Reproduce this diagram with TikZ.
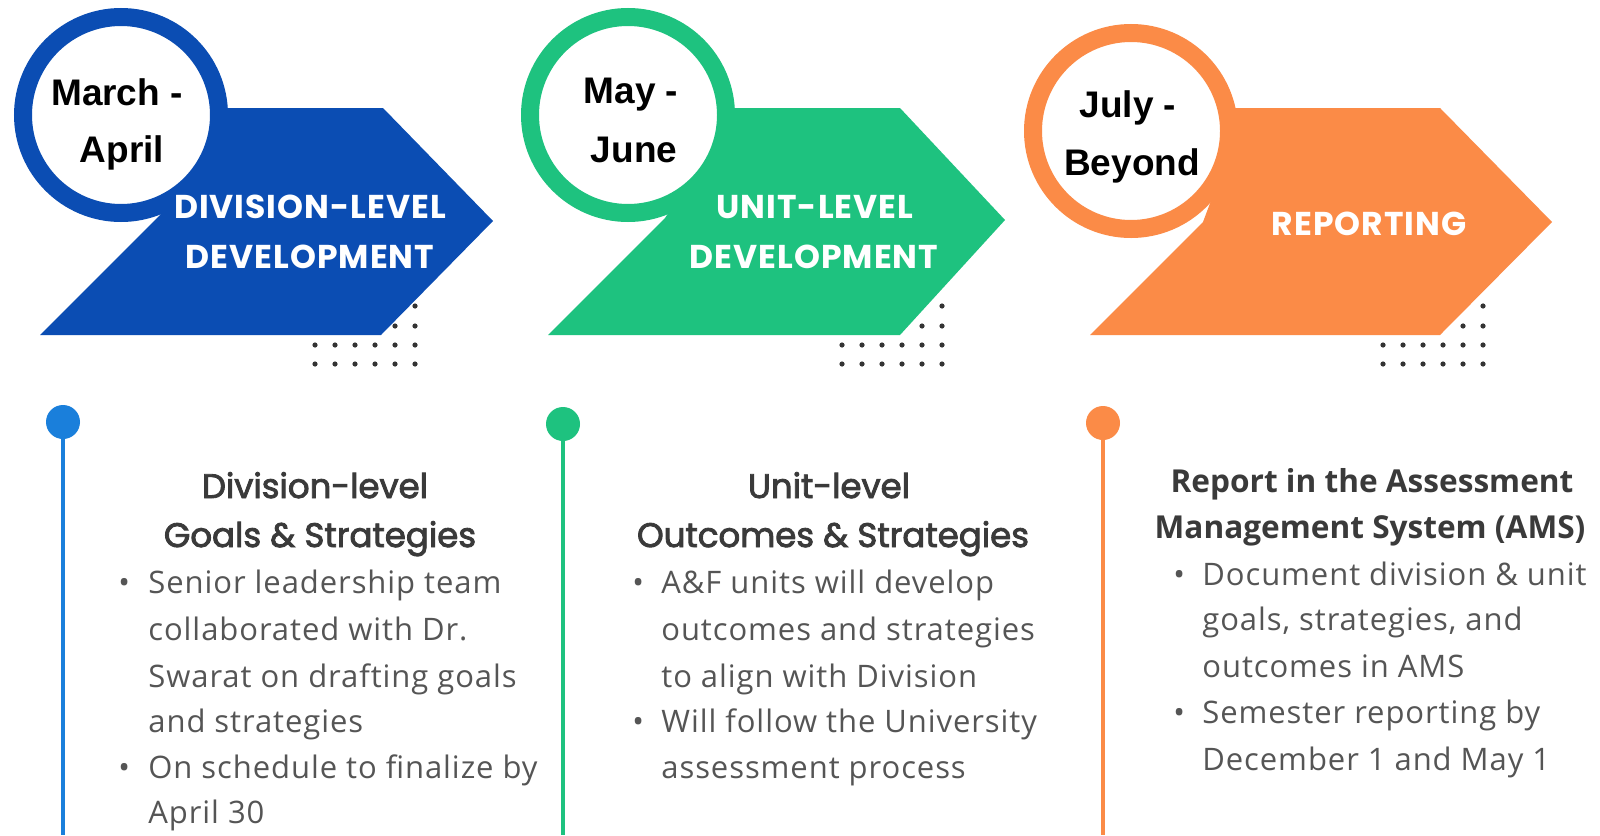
\documentclass[tikz,border=0pt]{standalone}
\usepackage{fontspec}
\setmainfont{Open Sans}
\newfontfamily\datefont{Liberation Sans}
\newfontfamily\phasefont[LetterSpace=3]{Poppins}
\newfontfamily\ttlfont[FakeBold=2.5]{Poppins}
\newfontfamily\bodyfont[LetterSpace=3]{Open Sans}
\newfontfamily\ttlbfont{Open Sans}
\definecolor{blueA}{HTML}{0B4DB3}
\definecolor{blueL}{HTML}{1A7FDB}
\definecolor{greenA}{HTML}{1EC27F}
\definecolor{orangeA}{HTML}{FB8B47}
\definecolor{ttlgray}{HTML}{3A3A3A}
\definecolor{bodygray}{HTML}{555555}
\definecolor{dotgray}{HTML}{333333}
\tikzset{
  datetxt/.style={font=\datefont\bfseries\fontsize{18.5}{20}\selectfont, text=black, anchor=base, inner sep=0pt},
  phasetxt/.style={font=\phasefont\bfseries\fontsize{16.5}{18}\selectfont, text=white, anchor=base, inner sep=0pt},
  ttltxt/.style={font=\ttlfont\fontsize{17}{19}\selectfont, text=ttlgray, anchor=base, inner sep=0pt},
  ttlb/.style={font=\ttlbfont\bfseries\fontsize{15.8}{17}\selectfont, text=ttlgray, anchor=base, inner sep=0pt},
  bodytxt/.style={font=\bodyfont\fontsize{15.5}{17}\selectfont, text=bodygray, anchor=base west, inner sep=0pt},
  ring/.style={draw=#1, line width=9pt, fill=white},
  dotc/.style={fill=dotgray, draw=none},
  pin/.style={fill=#1, draw=none},
  stem/.style={draw=#1, line width=2pt}
}
\begin{document}
\begin{tikzpicture}[x=0.5pt,y=-0.5pt]
\fill[white] (0,0) rectangle (1600,835);
\useasboundingbox (0,0) rectangle (1600,835);

% ---------- arrows ----------
\fill[blueA] (40,335) -- (160,215) -- (190,170) -- (200,108) -- (383,108) -- (493,221) -- (381,335) -- cycle;
\fill[greenA] (548,335) -- (665,218) -- (698,170) -- (708,108) -- (900,108) -- (1005,220) -- (900,335) -- cycle;
\fill[orangeA] (1090,335) -- (1203,222) -- (1215,190) -- (1215,108) -- (1440,108) -- (1552,222) -- (1440,335) -- cycle;

% ---------- rings ----------
\draw[ring=blueA] (121,115) circle (98);
\draw[ring=greenA] (628,115) circle (98);
\draw[ring=orangeA] (1131,131) circle (98);

% ---------- dot grids ----------
\foreach \ox in {315,842,1383}{
  \fill[dotc] (\ox+100,306) circle (2.6);
  \foreach \k in {4,5} \fill[dotc] (\ox+20*\k,326) circle (2.6);
  \foreach \k in {0,...,5} {
    \fill[dotc] (\ox+20*\k,345) circle (2.6);
    \fill[dotc] (\ox+20*\k,364) circle (2.6);
  }
}

% ---------- date labels ----------
\node[datetxt] (d1a) at (117,105) {March -};
\node[datetxt] (d1b) at (122,162) {April};
\node[datetxt] (d2a) at (631,103) {May -};
\node[datetxt] (d2b) at (634,162) {June};
\node[datetxt] (d3a) at (1128,117) {July -};
\node[datetxt] (d3b) at (1132,175) {Beyond};

% ---------- phase labels ----------
\node[phasetxt] (p1a) at (310,218) {DIVISION-LEVEL};
\node[phasetxt] (p1b) at (310,268) {DEVELOPMENT};
\node[phasetxt] (p2a) at (815,218) {UNIT-LEVEL};
\node[phasetxt] (p2b) at (814,268) {DEVELOPMENT};
\node[phasetxt] (p3a) at (1369,235) {REPORTING};

% ---------- timeline stems ----------
\coordinate (e1) at (63,835);
\coordinate (e2) at (563,835);
\coordinate (e3) at (1103,835);
\node[pin=blueL, circle, minimum size=17pt, inner sep=0pt] (k1) at (63,422) {};
\node[pin=greenA, circle, minimum size=17pt, inner sep=0pt] (k2) at (563,424) {};
\node[pin=orangeA, circle, minimum size=17pt, inner sep=0pt] (k3) at (1103,423) {};
\draw[stem=blueL] (k1.center) -- (e1);
\draw[stem=greenA] (k2.center) -- (e2);
\draw[stem=orangeA] (k3.center) -- (e3);

% ---------- column 1 ----------
\node[ttltxt] (t1a) at (315,498) {Division-level};
\node[ttltxt] (t1b) at (320,547) {Goals \& Strategies};
\node[bodytxt] (b1i) at (118,593) {•};
\node[bodytxt] (b1ii) at (118,778) {•};
\node[bodytxt] (l11) at (148,593) {Senior leadership team};
\node[bodytxt] (l12) at (148,640) {collaborated with Dr.};
\node[bodytxt] (l13) at (148,687) {Swarat on drafting goals};
\node[bodytxt] (l14) at (148,732) {and strategies};
\node[bodytxt] (l15) at (148,778) {On schedule to finalize by};
\node[bodytxt] (l16) at (148,823) {April 30};

% ---------- column 2 ----------
\node[ttltxt] (t2a) at (829,498) {Unit-level};
\node[ttltxt] (t2b) at (833,547) {Outcomes \& Strategies};
\node[bodytxt] (b2i) at (632,593) {•};
\node[bodytxt] (b2ii) at (632,732) {•};
\node[bodytxt] (l21) at (661,593) {A\&F units will develop};
\node[bodytxt] (l22) at (661,640) {outcomes and strategies};
\node[bodytxt] (l23) at (661,687) {to align with Division};
\node[bodytxt] (l24) at (661,732) {Will follow the University};
\node[bodytxt] (l25) at (661,778) {assessment process};

% ---------- column 3 ----------
\node[ttlb] (t3a) at (1372,492) {Report in the Assessment};
\node[ttlb] (t3b) at (1370,538) {Management System (AMS)};
\node[bodytxt] (b3i) at (1173,585) {•};
\node[bodytxt] (b3ii) at (1173,723) {•};
\node[bodytxt] (l31) at (1202,585) {Document division \& unit};
\node[bodytxt] (l32) at (1202,630) {goals, strategies, and};
\node[bodytxt] (l33) at (1202,677) {outcomes in AMS};
\node[bodytxt] (l34) at (1202,723) {Semester reporting by};
\node[bodytxt] (l35) at (1202,770) {December 1 and May 1};
\end{tikzpicture}
\end{document}
